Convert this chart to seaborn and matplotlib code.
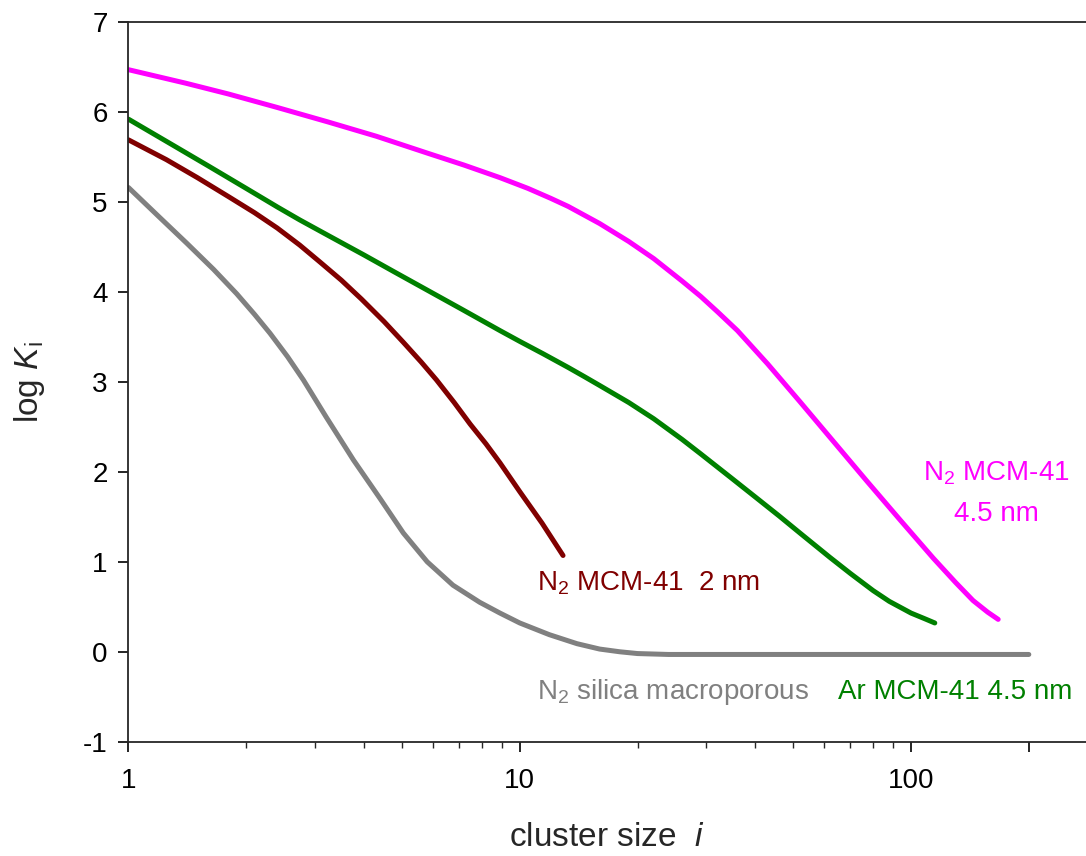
import matplotlib
matplotlib.use("Agg")
import numpy as np
import pandas as pd
import matplotlib.pyplot as plt
import seaborn as sns
from matplotlib.ticker import FixedLocator, NullFormatter

# values (x = cluster size i, y = log K_i)
mag_x = [1, 1.4, 1.8, 2.4, 3.23, 4.3, 5.83, 7.2, 8.9, 10.5, 12, 13.3, 16, 19, 22,
         26, 29, 32, 36, 43, 52, 63, 77, 94, 114, 130, 144, 157, 167]
mag_y = [6.47, 6.32, 6.20, 6.05, 5.89, 5.73, 5.54, 5.41, 5.27, 5.15, 5.04, 4.95,
         4.76, 4.56, 4.37, 4.12, 3.95, 3.78, 3.57, 3.20, 2.78, 2.35, 1.90, 1.46,
         1.04, 0.77, 0.57, 0.44, 0.36]

ar_x = [1, 1.3, 1.6, 2.0, 2.41, 2.74, 3.23, 4.0, 4.79, 5.8, 7.09, 8.9, 10, 11.5,
        13.3, 14.6, 16, 19, 22, 26, 29, 35, 40, 46, 52, 62, 70, 80, 88, 100, 108,
        115]
ar_y = [5.92, 5.63, 5.40, 5.15, 4.94, 4.80, 4.63, 4.41, 4.22, 4.02, 3.81, 3.57,
        3.45, 3.31, 3.16, 3.06, 2.96, 2.77, 2.59, 2.36, 2.20, 1.92, 1.72, 1.51,
        1.32, 1.05, 0.87, 0.68, 0.56, 0.43, 0.37, 0.32]

n2_2nm_x = [1, 1.25, 1.5, 1.8, 2.1, 2.4, 2.74, 3.09, 3.5, 3.94, 4.5, 5.04, 5.6,
            6.13, 6.8, 7.47, 8.2, 8.9, 10, 11.4, 12.9]
n2_2nm_y = [5.69, 5.47, 5.27, 5.06, 4.88, 4.71, 4.52, 4.33, 4.13, 3.92, 3.67,
            3.44, 3.22, 3.02, 2.77, 2.53, 2.31, 2.10, 1.78, 1.43, 1.07]

silica_x = [1, 1.2, 1.41, 1.65, 1.89, 2.1, 2.30, 2.55, 2.80, 3.2, 3.76, 4.4,
            5.04, 5.8, 6.75, 7.9, 8.9, 10, 11.9, 14, 16, 18, 20, 24, 30, 50,
            100, 200]
silica_y = [5.16, 4.83, 4.54, 4.25, 3.98, 3.75, 3.54, 3.28, 3.02, 2.61, 2.13,
            1.70, 1.32, 1.00, 0.74, 0.55, 0.43, 0.32, 0.19, 0.09, 0.03, 0.00,
            -0.02, -0.03, -0.03, -0.03, -0.03, -0.03]

x_major = [1, 10, 100, 200]
x_major_labels = ["1", "10", "100", ""]
x_minor = [2, 3, 4, 5, 6, 7, 8, 9, 20, 30, 40, 50, 60, 70, 80, 90]
y_ticks = [-1, 0, 1, 2, 3, 4, 5, 6, 7]

series = [
    (silica_x, silica_y, "#808080"),
    (n2_2nm_x, n2_2nm_y, "#800000"),
    (ar_x, ar_y, "#008000"),
    (mag_x, mag_y, "#FF00FF"),
]

sns.set_style("ticks")
plt.rcParams["font.family"] = ["Liberation Sans", "DejaVu Sans"]
plt.rcParams["mathtext.fontset"] = "custom"
plt.rcParams["mathtext.rm"] = "Liberation Sans"
plt.rcParams["mathtext.it"] = "Liberation Sans:italic"
plt.rcParams["axes.linewidth"] = 1.3
plt.rcParams["axes.unicode_minus"] = False

fig = plt.figure(figsize=(10.86, 8.56), dpi=100)
ax = fig.add_axes([0.1183, 0.1335, 0.8817, 0.8408])

for xs, ys, col in series:
    df = pd.DataFrame({"x": xs, "y": ys})
    sns.lineplot(data=df, x="x", y="y", color=col, linewidth=3.6,
                 estimator=None, ax=ax, solid_joinstyle="round")

ax.set_xscale("log")
ax.set_xlim(1, 280)
ax.set_ylim(-1, 7)
ax.xaxis.set_major_locator(FixedLocator(x_major))
ax.set_xticklabels(x_major_labels)
ax.xaxis.set_minor_locator(FixedLocator(x_minor))
ax.xaxis.set_minor_formatter(NullFormatter())
ax.set_yticks(y_ticks)
ax.tick_params(axis="both", which="major", direction="out", length=7, width=1.2,
               labelsize=20, colors="black")
ax.tick_params(axis="x", which="minor", direction="out", length=4, width=1.0)
ax.tick_params(axis="x", which="major", pad=12)
ax.tick_params(axis="y", which="major", pad=8)
ax.spines["right"].set_visible(False)

ax.set_xlabel("cluster size  $\\mathit{i}$", fontsize=24, labelpad=20)
ax.set_ylabel("log $\\mathit{K}_{\\rm i}$", fontsize=24, labelpad=26)

ax.text(11.1, 0.76, "N$_2$ MCM-41  2 nm", color="#800000", fontsize=20,
        ha="left", va="center")
ax.text(11.1, -0.45, "N$_2$ silica macroporous", color="#808080", fontsize=20,
        ha="left", va="center")
ax.text(65, -0.45, "Ar MCM-41 4.5 nm", color="#008000", fontsize=20,
        ha="left", va="center")
ax.text(165, 1.76, "N$_2$ MCM-41\n4.5 nm", color="#FF00FF", fontsize=20,
        ha="center", va="center", linespacing=1.7)

fig.savefig("out.png", dpi=100)
